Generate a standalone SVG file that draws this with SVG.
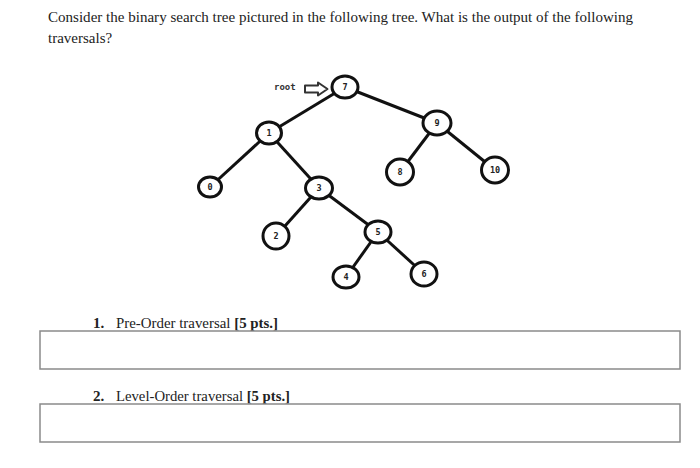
<svg xmlns="http://www.w3.org/2000/svg" width="700" height="468" viewBox="0 0 700 468">
<style>
.q{font-family:"Liberation Serif","Times New Roman",serif;font-size:15px;fill:#222}
.b{font-weight:bold}
.n ellipse{fill:#fff;stroke:#111;stroke-width:3}
.n text{font-family:"DejaVu Sans Mono","Liberation Mono",monospace;font-weight:bold;font-size:8.5px;fill:#222;text-anchor:middle}
.e line{stroke:#111;stroke-width:3}
.box{fill:#fff;stroke:#8a8a8a;stroke-width:1.5}
</style>
<rect width="700" height="468" fill="#fff"/>
<text class="q" x="48" y="22" textLength="585" lengthAdjust="spacingAndGlyphs">Consider the binary search tree pictured in the following tree. What is the output of the following</text>
<text class="q" x="48" y="43">traversals?</text>
<g id="connectors" class="e">
<line x1="345" y1="87" x2="437" y2="123"/>
<line x1="345" y1="87" x2="269" y2="133"/>
<line x1="437" y1="123" x2="400" y2="172"/>
<line x1="437" y1="123" x2="495" y2="170"/>
<line x1="269" y1="133" x2="210" y2="187"/>
<line x1="269" y1="133" x2="319" y2="188"/>
<line x1="319" y1="188" x2="276" y2="236"/>
<line x1="319" y1="188" x2="378" y2="232"/>
<line x1="378" y1="232" x2="346" y2="277"/>
<line x1="378" y1="232" x2="424" y2="274"/>
</g>
<g id="root-label">
<text x="274" y="90" style="font-family:'DejaVu Sans Mono','Liberation Mono',monospace;font-weight:bold;font-size:9px;fill:#333">root</text>
<path d="M305,85.5 L318,85.5 L318,82.5 L327.5,89 L318,95.5 L318,92.5 L305,92.5 Z" fill="#fff" stroke="#333" stroke-width="2" stroke-linejoin="round"/>
</g>
<g id="node-7" class="n"><ellipse cx="345" cy="87" rx="13" ry="11"/><text x="345" y="90">7</text></g>
<g id="node-9" class="n"><ellipse cx="437" cy="123" rx="14" ry="12"/><text x="437" y="126">9</text></g>
<g id="node-1" class="n"><ellipse cx="269" cy="133" rx="12.5" ry="11"/><text x="269" y="136">1</text></g>
<g id="node-8" class="n"><ellipse cx="400" cy="172" rx="13.5" ry="13"/><text x="400" y="175">8</text></g>
<g id="node-10" class="n"><ellipse cx="495" cy="170" rx="13.5" ry="13"/><text x="495" y="173">10</text></g>
<g id="node-0" class="n"><ellipse cx="210" cy="187" rx="11.5" ry="10"/><text x="210" y="190">0</text></g>
<g id="node-3" class="n"><ellipse cx="319" cy="188" rx="13.5" ry="11"/><text x="319" y="191">3</text></g>
<g id="node-2" class="n"><ellipse cx="276" cy="236" rx="13" ry="13"/><text x="276" y="239">2</text></g>
<g id="node-5" class="n"><ellipse cx="378" cy="232" rx="13" ry="11"/><text x="378" y="235">5</text></g>
<g id="node-4" class="n"><ellipse cx="346" cy="277" rx="13" ry="11"/><text x="346" y="280">4</text></g>
<g id="node-6" class="n"><ellipse cx="424" cy="274" rx="13" ry="12"/><text x="424" y="277">6</text></g>
<text class="q b" x="93" y="328">1.</text>
<text class="q" x="116" y="328" textLength="162" lengthAdjust="spacingAndGlyphs">Pre-Order traversal <tspan class="b">[5 pts.]</tspan></text>
<rect class="box" x="40" y="331" width="640" height="38"/>
<text class="q b" x="93" y="401">2.</text>
<text class="q" x="116" y="401" textLength="174" lengthAdjust="spacingAndGlyphs">Level-Order traversal <tspan class="b">[5 pts.]</tspan></text>
<rect class="box" x="40" y="404" width="640" height="38"/>
</svg>
